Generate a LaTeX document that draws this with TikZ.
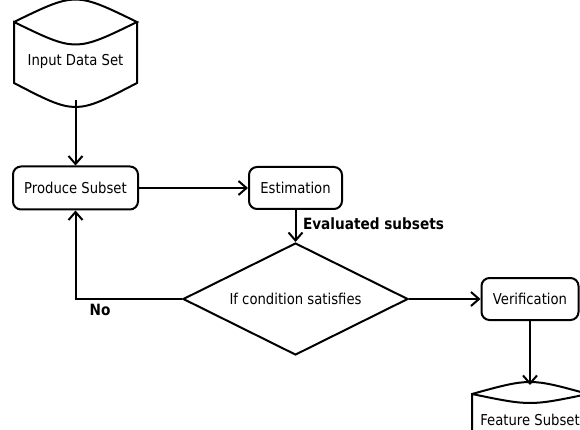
\documentclass[tikz,border=0pt]{standalone}
\usepackage{fontspec}
\setmainfont{DejaVu Sans}[FakeStretch=0.88]
\usetikzlibrary{arrows.meta,shapes.geometric}
\begin{document}
\begin{tikzpicture}[x=1pt,y=-1pt, line width=2pt,
  txt/.style={font=\fontsize{15}{17}\selectfont, inner sep=0pt},
  box/.style={txt, draw, rounded corners=8pt},
  lbl/.style={font=\bfseries\fontsize{15.5}{18}\selectfont, inner sep=0pt},
  arr/.style={line width=2pt, -{Straight Barb[length=8pt,width=14pt,line width=2pt]}},
 ]
\useasboundingbox (0,0) rectangle (580,430);
% Input Data Set (stored data shape)
\draw (14,22) .. controls (75.5,-8) .. (137,22)
      .. controls (75.5,52) .. (14,22) -- (14,83)
      .. controls (75.5,115) .. (137,83) -- (137,22);
\node[txt, minimum width=123pt, minimum height=76pt] (in) at (75.5,61) {Input Data Set};
% process boxes
\node[box, minimum width=125pt, minimum height=43pt] (ps) at (75.5,188) {Produce Subset};
\node[box, minimum width=93pt, minimum height=42pt] (est) at (295.5,188) {Estimation};
\node[box, minimum width=97pt, minimum height=42pt] (ver) at (530,299) {Verification};
% decision
\node[txt, draw, diamond, aspect=2, minimum width=225pt, minimum height=112pt] (dec) at (295.5,299) {If condition satisfies};
% Feature Subset (stored data shape, clipped at the right)
\draw (472,440) -- (472,394) .. controls (530,378) .. (588,394)
      .. controls (530,406) .. (472,394);
\draw (588,394) -- (588,440);
\node[txt, minimum width=116pt, minimum height=68pt] (fs) at (530,420) {Feature Subset};
% connectors
\draw[arr] (in.south) -- (ps.north);
\draw[arr] (ps.east) -- (est.west);
\draw[arr] (est.south) -- (dec.north);
\draw[arr] (dec.west) -| (ps.south);
\draw[arr] (dec.east) -- (ver.west);
\draw[arr] (ver.south) -- (fs.north);
% labels
\node[lbl, anchor=west] (ev) at (302,224) {Evaluated subsets};
\node[lbl] (no) at (100,310) {No};
\end{tikzpicture}
\end{document}
